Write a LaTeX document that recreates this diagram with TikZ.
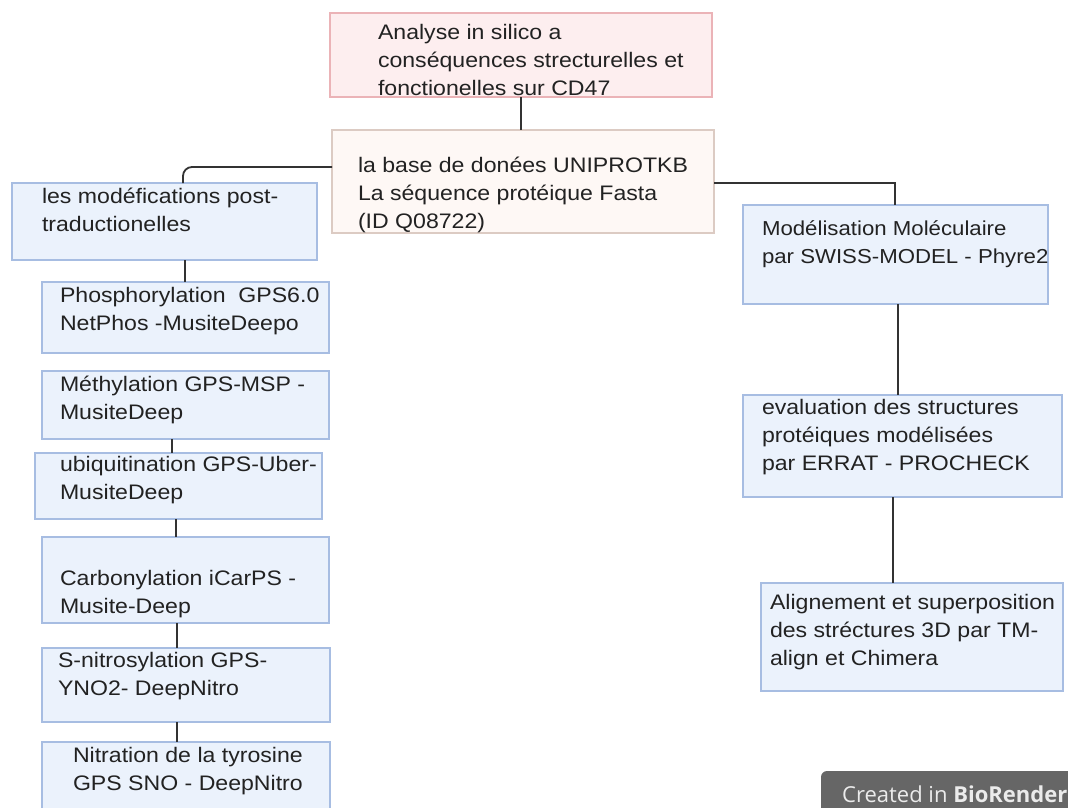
\documentclass[tikz,border=0pt]{standalone}
\usepackage{fontspec}
\setmainfont[FakeStretch=1.1]{Liberation Sans}
\newfontfamily\badgefont{Open Sans}
\usetikzlibrary{calc}
\definecolor{txtc}{HTML}{222222}
\definecolor{bluefill}{HTML}{EBF2FC}
\definecolor{blueline}{HTML}{A7BDE2}
\definecolor{pinkfill}{HTML}{FDEEEF}
\definecolor{pinkline}{HTML}{EBB3B7}
\definecolor{creamfill}{HTML}{FEF8F5}
\definecolor{creamline}{HTML}{DCCBC3}
\definecolor{connc}{HTML}{333333}
\definecolor{badgec}{HTML}{666666}
\tikzset{
  boxbase/.style={rectangle, anchor=north west, inner sep=0pt, outer sep=0pt, line width=1.8pt},
  bluebox/.style={boxbase, draw=blueline, fill=bluefill},
  pinkbox/.style={boxbase, draw=pinkline, fill=pinkfill},
  creambox/.style={boxbase, draw=creamline, fill=creamfill},
  txt/.style={anchor=base west, inner sep=0pt, outer sep=0pt, text=txtc, font=\fontsize{21}{28}\selectfont},
  conn/.style={draw=connc, line width=1.8pt},
}
\newcommand\tb[1]{\parbox[t]{360pt}{\raggedright #1}}
\begin{document}
\begin{tikzpicture}[x=1pt,y=-1pt]
\useasboundingbox (0,0) rectangle (1068,807);
\clip (0,0) rectangle (1068,807);
\fill[white] (0,0) rectangle (1068,807);

% boxes
\node[pinkbox, minimum width=382pt, minimum height=84pt] (top) at (330,13) {};
\node[creambox, minimum width=382pt, minimum height=103pt] (db) at (332,130) {};
\node[bluebox, minimum width=305pt, minimum height=77pt] (ptm) at (12,183) {};
\node[bluebox, minimum width=287pt, minimum height=71pt] (phos) at (42,282) {};
\node[bluebox, minimum width=287pt, minimum height=68pt] (meth) at (42,371) {};
\node[bluebox, minimum width=287pt, minimum height=66pt] (ubiq) at (35,453) {};
\node[bluebox, minimum width=287pt, minimum height=86pt] (carb) at (42,537) {};
\node[bluebox, minimum width=288pt, minimum height=74pt] (snit) at (42,648) {};
\node[bluebox, minimum width=288pt, minimum height=90pt] (nit) at (42,742) {};
\node[bluebox, minimum width=305pt, minimum height=99pt] (mod) at (743,205) {};
\node[bluebox, minimum width=319pt, minimum height=102pt] (eval) at (743,395) {};
\node[bluebox, minimum width=302pt, minimum height=108pt] (align) at (761,583) {};

% connectors
\draw[conn] (top.south) -- (top.south |- db.north);
\draw[conn, rounded corners=9pt] ($(db.north west)+(0,37)$) -| ($(ptm.north west)+(171,0)$);
\draw[conn] ($(db.east)+(0,1.5)$) -| ($(mod.north)+(-0.5,0)$);
\draw[conn] ($(ptm.south west)+(173,0)$) -- ($(phos.north west)+(143,0)$);
\draw[conn] ($(meth.south west)+(130,0)$) -- ($(ubiq.north west)+(137,0)$);
\draw[conn] ($(ubiq.south west)+(141,0)$) -- ($(carb.north west)+(134,0)$);
\draw[conn] ($(carb.south west)+(135,0)$) -- ($(snit.north west)+(135,0)$);
\draw[conn] ($(snit.south west)+(135,0)$) -- ($(nit.north west)+(135,0)$);
\draw[conn] ($(mod.south)+(2.5,0)$) -- ($(eval.north west)+(155,0)$);
\draw[conn] ($(eval.south west)+(150,0)$) -- ($(align.north west)+(132,0)$);

% texts
\node[txt] (top-t) at (378,39) {\tb{Analyse in silico a\\conséquences strecturelles et\\fonctionelles sur CD47}};
\node[txt] (db-t) at (358,172) {\tb{la base de donées UNIPROTKB\\La séquence protéique Fasta\\(ID Q08722)}};
\node[txt] (ptm-t) at (42,203) {\tb{les modéfications post-\\traductionelles}};
\node[txt] (phos-t) at (60,302) {\tb{Phosphorylation~ GPS6.0\\NetPhos -MusiteDeepo}};
\node[txt] (meth-t) at (60,391) {\tb{Méthylation GPS-MSP -\\MusiteDeep}};
\node[txt] (ubiq-t) at (60,471) {\tb{ubiquitination GPS-Uber-\\MusiteDeep}};
\node[txt] (carb-t) at (60,585) {\tb{Carbonylation iCarPS -\\Musite-Deep}};
\node[txt] (snit-t) at (58,667) {\tb{S-nitrosylation GPS-\\YNO2- DeepNitro}};
\node[txt] (nit-t) at (73,762) {\tb{Nitration de la tyrosine\\GPS SNO - DeepNitro}};
\node[txt, font=\fontsize{20.2}{28}\selectfont] (mod-t) at (762,235) {\tb{Modélisation Moléculaire\\par SWISS-MODEL - Phyre2}};
\node[txt] (eval-t) at (762,414) {\tb{evaluation des structures\\protéiques modélisées\\par ERRAT - PROCHECK}};
\node[txt] (align-t) at (770,609) {\tb{Alignement et superposition\\des stréctures 3D par TM-\\align et Chimera}};

% badge
\node[boxbase, line width=0pt, fill=badgec, rounded corners=6pt, minimum width=280pt, minimum height=70pt] (badge) at (821,771) {};
\node[anchor=base west, inner sep=0pt, text=white!92!black, font=\badgefont\fontsize{22}{26}\selectfont] (badge-t) at (842,802) {Created in \textbf{BioRender}};
\end{tikzpicture}
\end{document}
